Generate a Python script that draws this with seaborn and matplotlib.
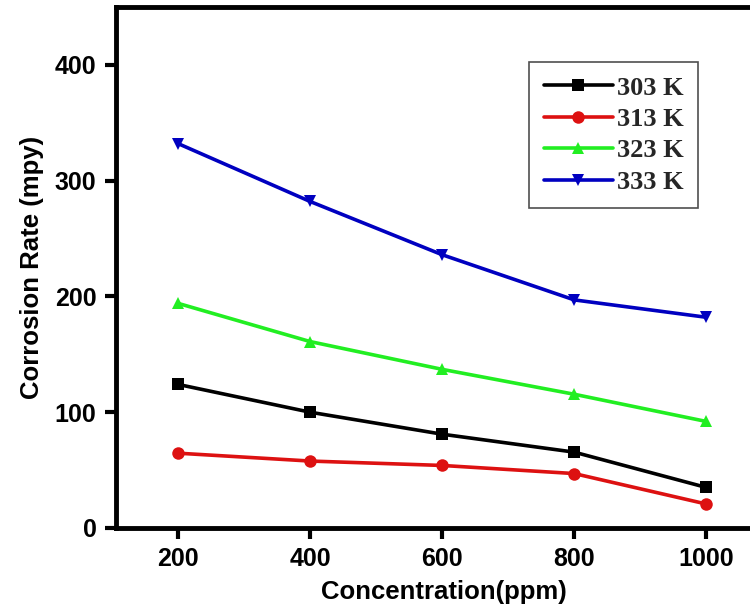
import matplotlib
matplotlib.use('Agg')
import matplotlib.pyplot as plt
import seaborn as sns
import pandas as pd

# Concentration (ppm)
concentration = [200, 400, 600, 800, 1000]

# Corrosion rate (mpy) per temperature
rate_303 = [124, 100, 81, 65.5, 35]
rate_313 = [64.6, 57.8, 54, 47, 20.7]
rate_323 = [194, 161, 137, 115.5, 92]
rate_333 = [332, 282, 236, 197, 182]

temps = ['303 K', '313 K', '323 K', '333 K']
series = [rate_303, rate_313, rate_323, rate_333]

rows = []
for t, vals in zip(temps, series):
    for c, v in zip(concentration, vals):
        rows.append({'Concentration': c, 'Rate': v, 'Temp': t})
df = pd.DataFrame(rows)

sns.set_style('ticks')
plt.rcParams['font.family'] = ['Liberation Sans', 'DejaVu Sans']

palette = {'303 K': '#000000', '313 K': '#dd1111', '323 K': '#22ee22', '333 K': '#0000c0'}
markers = {'303 K': 's', '313 K': 'o', '323 K': '^', '333 K': 'v'}

fig = plt.figure(figsize=(7.5, 6.12), dpi=100)
ax = fig.add_axes([0.1547, 0.1373, 0.875, 0.8513])

sns.lineplot(data=df, x='Concentration', y='Rate', hue='Temp', style='Temp',
             palette=palette, markers=markers, dashes=False, linewidth=2.6,
             markersize=9, markeredgewidth=0, ax=ax)

ax.set_xlim(106, 1100)
ax.set_ylim(0, 450)
ax.set_xticks(concentration)
ax.set_yticks([0, 100, 200, 300, 400])

for s in ax.spines.values():
    s.set_linewidth(3.5)
    s.set_color('black')
    s.set_visible(True)

ax.tick_params(axis='both', direction='out', length=8, width=3, pad=6,
               color='black', labelcolor='black')
for lab in ax.get_xticklabels() + ax.get_yticklabels():
    lab.set_fontweight('bold')
    lab.set_fontsize(18)

ax.set_xlabel('Concentration(ppm)', fontsize=18.5, fontweight='bold',
              labelpad=6, color='black')
ax.set_ylabel('Corrosion Rate (mpy)', fontsize=18.5, fontweight='bold',
              labelpad=8, color='black')

leg = ax.legend(loc='upper left', bbox_to_anchor=(0.630, 0.895), frameon=True,
                fancybox=False, edgecolor='#222222', handlelength=2.6,
                handletextpad=0.15, labelspacing=0.3, borderpad=0.55,
                borderaxespad=0,
                prop={'family': ['Liberation Serif', 'DejaVu Serif'], 'weight': 'bold', 'size': 19})
leg.get_frame().set_linewidth(1.2)

fig.savefig('out.png', dpi=100)
